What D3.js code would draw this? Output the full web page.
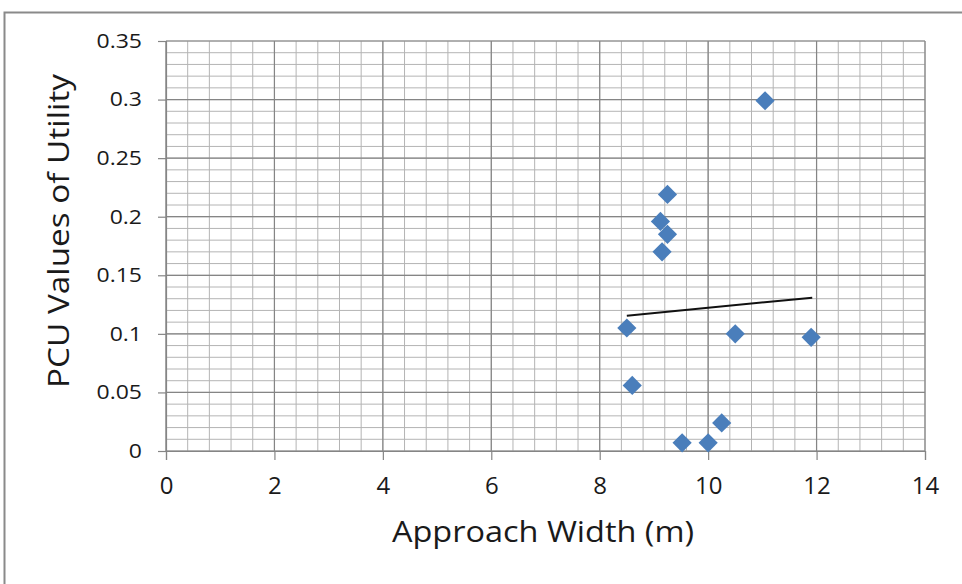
<!DOCTYPE html>
<html>
<head>
<meta charset="utf-8">
<script src="https://cdn.jsdelivr.net/npm/d3@7"></script>
<style>
  html, body { margin: 0; padding: 0; background: #ffffff; }
  svg { display: block; }
  text { font-family: "Open Sans", "Noto Sans", sans-serif; fill: #1a1a1a; }
</style>
</head>
<body>
<svg id="chart" width="962" height="584"></svg>
<script>
// Approach width (m) vs PCU value of utility
const approachWidth = [11.05, 9.25, 9.12, 9.25, 9.15, 8.5, 8.6, 9.52, 10.0, 10.25, 10.5, 11.9];
const pcuValue      = [0.299, 0.219, 0.196, 0.185, 0.170, 0.105, 0.056, 0.007, 0.007, 0.024, 0.100, 0.097];

// linear trend line end points
const trendX = [8.5, 11.92];
const trendY = [0.1155, 0.1309];

const xTicks = [0, 2, 4, 6, 8, 10, 12, 14];
const yTicks = [0, 0.05, 0.1, 0.15, 0.2, 0.25, 0.3, 0.35];
const xMinor = d3.range(0, 36).map(i => +(i * 0.4).toFixed(2));
const yMinor = d3.range(0, 36).map(i => i / 100);

const svg = d3.select("#chart");

// outer frame
svg.append("rect").attr("x", 0).attr("y", 0).attr("width", 962).attr("height", 584).attr("fill", "#ffffff");
svg.append("path").attr("d", "M4.5,584 V12.5 H962").attr("fill", "none")
  .attr("stroke", "#8a8a8a").attr("stroke-width", 2);

const plotL = 166, plotR = 925, plotT = 41, plotB = 451;
const x = d3.scaleLinear().domain([0, 14]).range([plotL, plotR]);
const y = d3.scaleLinear().domain([0, 0.35]).range([plotB, plotT]);

const grid = svg.append("g");
// minor grid
grid.selectAll("line.vmin").data(xMinor)
  .enter().append("line")
  .attr("x1", d => x(d)).attr("x2", d => x(d)).attr("y1", plotT).attr("y2", plotB)
  .attr("stroke", "#b4b4b4").attr("stroke-width", 1);
grid.selectAll("line.hmin").data(yMinor)
  .enter().append("line")
  .attr("x1", plotL).attr("x2", plotR).attr("y1", d => y(d)).attr("y2", d => y(d))
  .attr("stroke", "#b4b4b4").attr("stroke-width", 1);
// major grid
grid.selectAll("line.vmaj").data(xTicks)
  .enter().append("line")
  .attr("x1", d => x(d)).attr("x2", d => x(d)).attr("y1", plotT).attr("y2", plotB)
  .attr("stroke", "#858585").attr("stroke-width", 1.2);
grid.selectAll("line.hmaj").data(yTicks)
  .enter().append("line")
  .attr("x1", plotL).attr("x2", plotR).attr("y1", d => y(d)).attr("y2", d => y(d))
  .attr("stroke", "#858585").attr("stroke-width", 1.2);

// axes
const xAxis = d3.axisBottom(x).tickValues(xTicks).tickSize(9).tickPadding(17)
  .tickFormat(d3.format("d"));
const gx = svg.append("g").attr("transform", `translate(0,${plotB})`).call(xAxis);
gx.select(".domain").attr("stroke", "#858585").attr("stroke-width", 1.2);
gx.selectAll(".tick line").attr("stroke", "#858585").attr("stroke-width", 1.2);
gx.selectAll(".tick text").attr("font-size", 24).attr("font-family", "'Open Sans', sans-serif").attr("fill", "#1a1a1a");

const yAxis = d3.axisLeft(y).tickValues(yTicks).tickSize(8).tickPadding(0)
  .tickFormat(d => String(+d.toFixed(2)));
const gy = svg.append("g").attr("transform", `translate(${plotL},0)`).call(yAxis);
gy.select(".domain").attr("stroke", "#858585").attr("stroke-width", 1.2);
gy.selectAll(".tick line").attr("stroke", "#858585").attr("stroke-width", 1.2);
// y labels: slightly wide face, right edge near x = 142
gy.selectAll(".tick text")
  .attr("x", 0)
  .attr("transform", "translate(-24,0) scale(1.15,1)")
  .attr("font-size", 20).attr("font-family", "'Open Sans', sans-serif").attr("fill", "#1a1a1a");

// trend line
svg.append("line")
  .attr("x1", x(trendX[0])).attr("y1", y(trendY[0]))
  .attr("x2", x(trendX[1])).attr("y2", y(trendY[1]))
  .attr("stroke", "#111").attr("stroke-width", 2);

// markers
const pts = approachWidth.map((w, i) => ({ w, v: pcuValue[i] }));
const diamond = d3.symbol().type(d3.symbolDiamond2).size(235);
svg.append("g").selectAll("path").data(pts).enter().append("path")
  .attr("transform", d => `translate(${x(d.w)},${y(d.v)})`)
  .attr("d", diamond)
  .attr("fill", "#4a7ebb");

// axis titles
svg.append("text").attr("x", 543).attr("y", 542).attr("text-anchor", "middle")
  .attr("font-size", 30).attr("textLength", 302).attr("lengthAdjust", "spacingAndGlyphs")
  .text("Approach Width (m)");
svg.append("text").attr("transform", "translate(69,231) rotate(-90)").attr("text-anchor", "middle")
  .attr("font-size", 30).attr("textLength", 314).attr("lengthAdjust", "spacingAndGlyphs")
  .text("PCU Values of Utility");
</script>
</body>
</html>
